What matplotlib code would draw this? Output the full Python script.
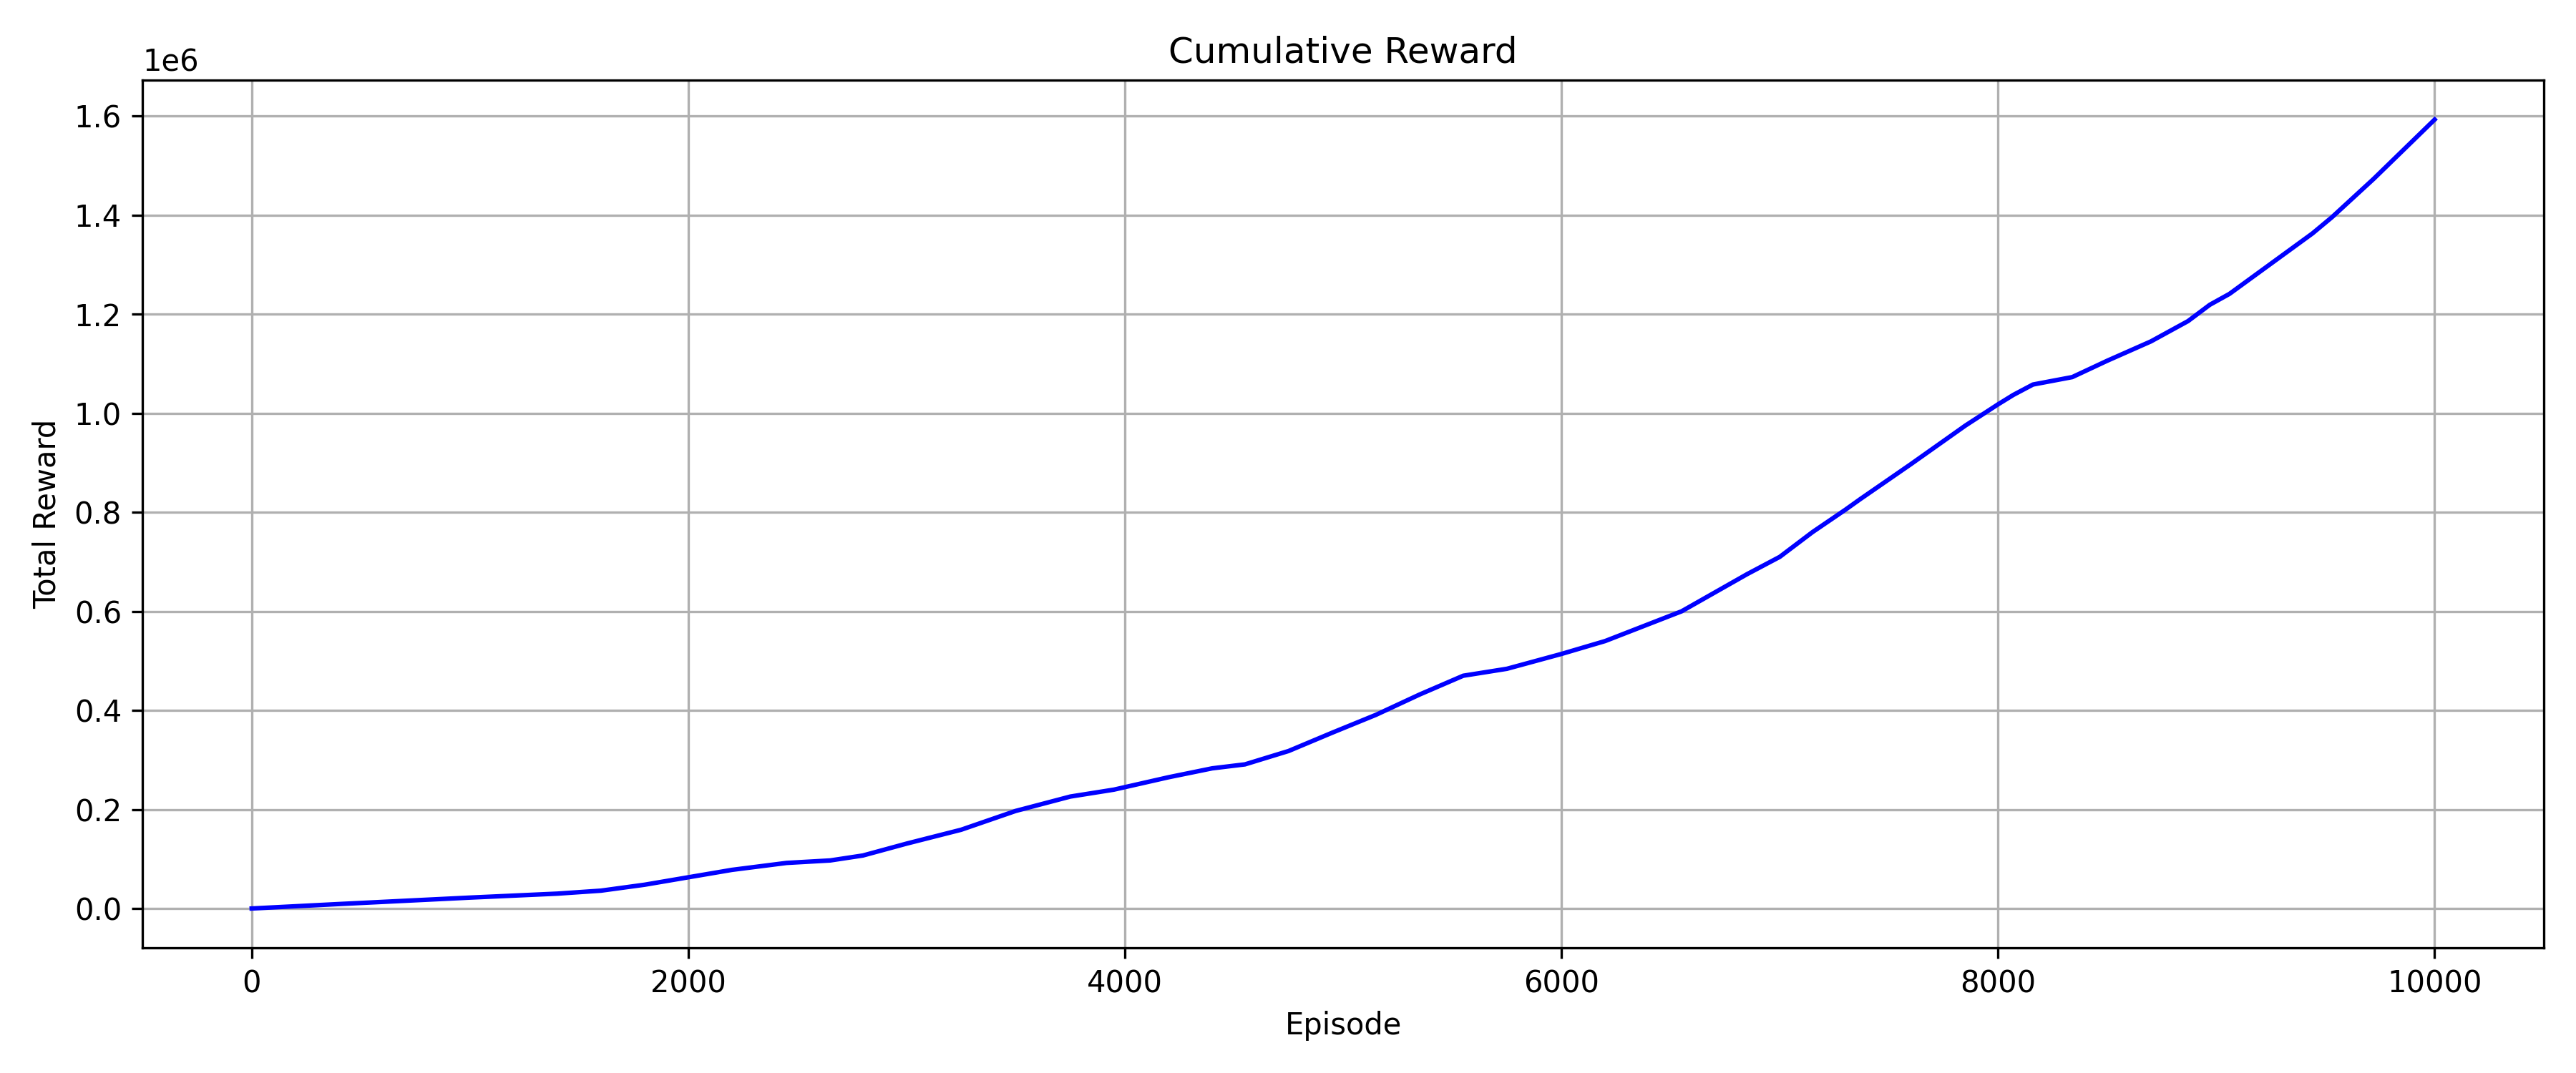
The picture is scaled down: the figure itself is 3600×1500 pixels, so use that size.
import numpy as np
import matplotlib
matplotlib.use('Agg')
import matplotlib.pyplot as plt

# cumulative reward (episode, total reward in millions)
episodes = [0, 400, 1000, 1400, 1600, 1800, 2000, 2200, 2450, 2650, 2800,
            3000, 3250, 3500, 3750, 3950, 4200, 4400, 4550, 4750, 4950,
            5150, 5350, 5550, 5750, 6000, 6200, 6550, 6850, 7000, 7150,
            7300, 7370, 7600, 7850, 8000, 8070, 8160, 8340, 8500, 8700,
            8870, 8970, 9060, 9250, 9440, 9530, 9720, 10000]
reward_m = [0.0, 0.009, 0.022, 0.030, 0.036, 0.048, 0.063, 0.078, 0.092,
            0.097, 0.107, 0.131, 0.159, 0.197, 0.226, 0.240, 0.265, 0.283,
            0.291, 0.318, 0.355, 0.391, 0.432, 0.470, 0.484, 0.514, 0.540,
            0.600, 0.675, 0.710, 0.760, 0.805, 0.827, 0.897, 0.975, 1.018,
            1.037, 1.058, 1.073, 1.106, 1.145, 1.186, 1.219, 1.241, 1.302,
            1.363, 1.396, 1.473, 1.593]

total_reward = np.array(reward_m) * 1e6

plt.figure(figsize=(12, 5))
plt.plot(episodes, total_reward, color='blue')
plt.title('Cumulative Reward')
plt.xlabel('Episode')
plt.ylabel('Total Reward')
plt.grid(True)
plt.tight_layout()
plt.savefig('out.png', dpi=300)
plt.close()
